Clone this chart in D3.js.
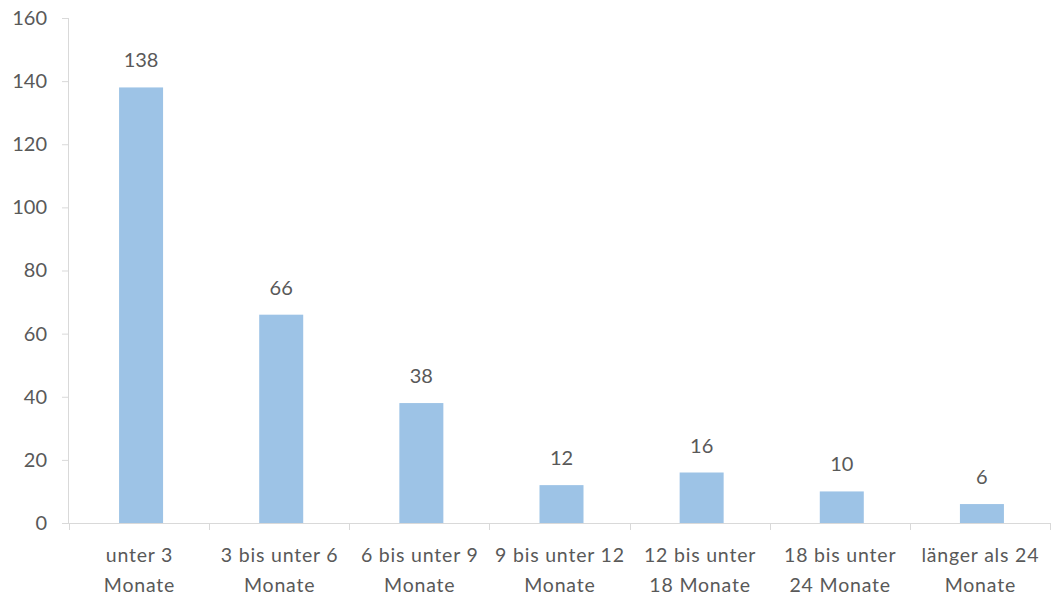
<!DOCTYPE html>
<html><head><meta charset="utf-8">
<script src="https://cdn.jsdelivr.net/npm/d3@7"></script>
<style>body{margin:0;background:#fff}svg{display:block}text{font-family:Lato,"Open Sans",sans-serif;fill:#595959}</style>
</head><body>
<svg id="c" width="1051" height="596"></svg>
<script>
const categories = [["unter 3","Monate"],["3 bis unter 6","Monate"],["6 bis unter 9","Monate"],["9 bis unter 12","Monate"],["12 bis unter","18 Monate"],["18 bis unter","24 Monate"],["länger als 24","Monate"]];
const values = [138, 66, 38, 12, 16, 10, 6];
const yTicks = [0, 20, 40, 60, 80, 100, 120, 140, 160];

(function(){
const svg = d3.select("#c");
const mL = 69, mR = 1050, mT = 18, mB = 523;
const keys = categories.map((d,i)=>i);
const x = d3.scaleBand().domain(keys).range([mL, mR]).paddingInner(0.686).paddingOuter(0.343);
const barShift = 2;
const y = d3.scaleLinear().domain([0,160]).range([mB, mT]);
const axisColor = "#d9d9d9";

const ya = svg.append("g").attr("transform", `translate(${mL},0)`)
  .call(d3.axisLeft(y).tickValues(yTicks).tickSize(7).tickPadding(15));
ya.select(".domain").attr("stroke", axisColor).attr("d", `M-0.5,${mT}V${mB}`);
ya.selectAll(".tick line").attr("stroke", axisColor);
ya.selectAll(".tick text").style("font-size","20px").attr("fill","#595959").attr("font-family",null);

svg.append("g").selectAll("rect").data(values).join("rect")
  .attr("x",(d,i)=>x(i)+barShift).attr("width",x.bandwidth())
  .attr("y",d=>y(d)).attr("height",d=>mB-y(d))
  .attr("fill","#9dc3e6");

const xb = d3.scaleLinear().domain([0, categories.length]).range([mL, mR]);
const xa = svg.append("g").attr("transform",`translate(0,${mB})`);
xa.append("path").attr("d",`M${mL},0.5H${mR}`).attr("stroke",axisColor).attr("fill","none");
xa.selectAll("line").data(d3.range(categories.length+1)).join("line")
  .attr("x1",d=>Math.round(xb(d))+0.5).attr("x2",d=>Math.round(xb(d))+0.5)
  .attr("y1",0).attr("y2",7).attr("stroke",axisColor);

const cl = svg.append("g").selectAll("text").data(categories).join("text")
  .attr("text-anchor","middle").style("font-size","19.5px").style("letter-spacing","0.8px")
  .attr("transform",(d,i)=>`translate(${x(i)+x.bandwidth()/2+0.4},562)`);
cl.selectAll("tspan").data(d=>d).join("tspan").attr("x",0).attr("dy",(d,j)=>j?30:0).text(d=>d);

svg.append("g").selectAll("text").data(values).join("text")
  .attr("text-anchor","middle").style("font-size","20px")
  .attr("x",(d,i)=>x(i)+barShift+x.bandwidth()/2).attr("y",d=>y(d)-20).text(d=>d);
})();
</script>
</body></html>
